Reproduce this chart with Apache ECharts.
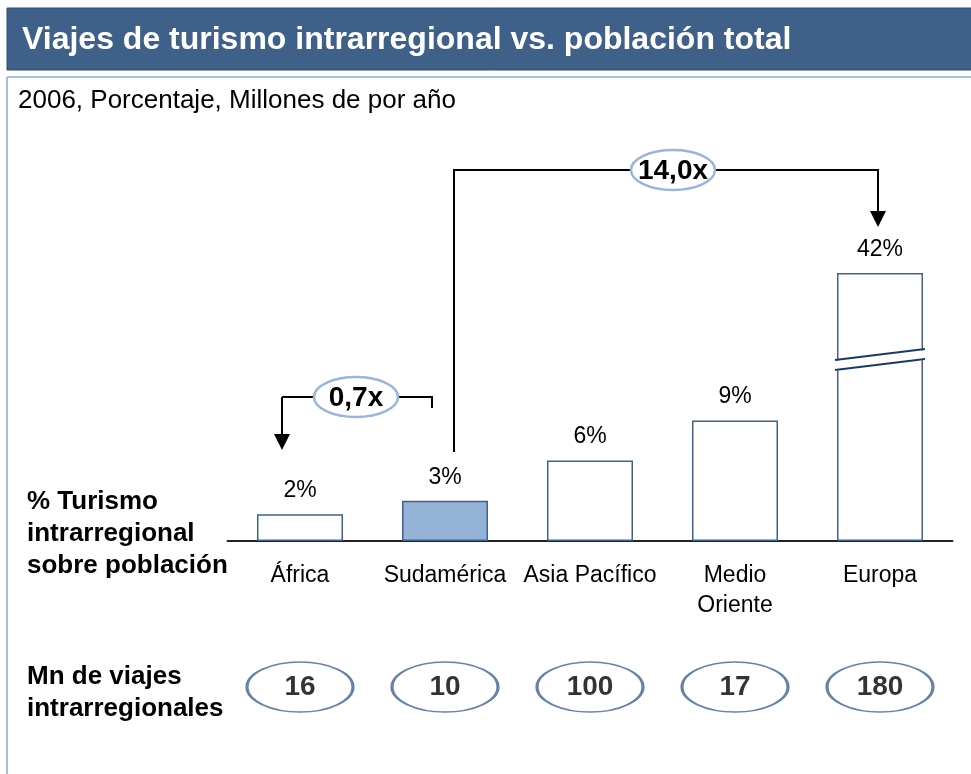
<!DOCTYPE html>
<html>
<head>
<meta charset="utf-8">
<script src="https://cdn.jsdelivr.net/npm/echarts@6/dist/echarts.min.js"></script>
<style>
  html, body { margin: 0; padding: 0; background: #fff; }
  #main { width: 971px; height: 774px; }
</style>
</head>
<body>
<div id="main"></div>
<script>
// data
const regions = ['África', 'Sudamérica', 'Asia Pacífico', 'Medio\nOriente', 'Europa'];
const sharePct = [2, 3, 6, 9, 42];          // % turismo intrarregional sobre población
const tripsMn = [16, 10, 100, 17, 180];     // Mn de viajes intrarregionales
const highlightIdx = 1;                     // Sudamérica
const axisCap = 20;                         // bars above this get drawn broken
const ratioLabels = ['0,7x', '14,0x'];

const FONT = '"Liberation Sans", Arial, sans-serif';
const DARK = '#41618C';

let chart = echarts.init(document.getElementById('main'));

chart.setOption({
  animation: false,
  backgroundColor: '#fff',
  grid: [
    { left: 227.5, width: 725, top: 273, height: 268 },
    { left: 227.5, width: 725, top: 662, height: 50 }
  ],
  xAxis: [
    {
      gridIndex: 0,
      type: 'category',
      data: regions,
      axisLine: { lineStyle: { color: '#222', width: 2 } },
      axisTick: { show: false },
      axisLabel: {
        color: '#000', fontSize: 23, fontFamily: FONT,
        margin: 20, lineHeight: 30, interval: 0
      }
    },
    {
      gridIndex: 1,
      type: 'category',
      data: regions,
      show: false
    }
  ],
  yAxis: [
    { gridIndex: 0, type: 'value', min: 0, max: axisCap, show: false },
    { gridIndex: 1, type: 'value', min: -1, max: 1, show: false }
  ],
  series: [
    {
      type: 'bar',
      xAxisIndex: 0,
      yAxisIndex: 0,
      barWidth: 86,
      data: sharePct.map(function (v, i) {
        return {
          value: Math.min(v, axisCap),
          itemStyle: {
            color: i === highlightIdx ? '#95B3D7' : '#fff',
            borderColor: DARK,
            borderWidth: 1.5
          }
        };
      }),
      label: {
        show: true,
        position: 'top',
        distance: 12,
        color: '#000',
        fontSize: 23,
        fontFamily: FONT,
        formatter: function (p) { return sharePct[p.dataIndex] + '%'; }
      }
    },
    {
      type: 'scatter',
      xAxisIndex: 1,
      yAxisIndex: 1,
      symbol: 'path://M0 50A50 50 0 1 1 100 50A50 50 0 1 1 0 50Z',
      symbolSize: [106, 50],
      itemStyle: { color: '#fff', borderColor: DARK, borderWidth: 2.2 },
      data: tripsMn.map(function (v, i) { return [i, 0]; }),
      label: {
        show: true,
        position: 'inside',
        color: '#000',
        fontSize: 28,
        fontWeight: 'bold',
        fontFamily: FONT,
        formatter: function (p) { return tripsMn[p.dataIndex]; }
      },
      z: 3
    }
  ]
});

// annotation shapes, placed from the bar positions
function px(i, v) {
  return chart.convertToPixel({ gridIndex: 0 }, [i, v]);
}
let xAf = px(0, 0)[0], xSa = px(1, 0)[0], xEu = px(4, 0)[0];
let euTop = px(4, axisCap)[1];

function line(pts, color, w) {
  return { type: 'polyline', shape: { points: pts }, style: { stroke: color || '#000', lineWidth: w || 2, fill: null }, z: 10 };
}
function arrowHead(x, yTip) {
  return { type: 'polygon', shape: { points: [[x - 8, yTip - 16], [x + 8, yTip - 16], [x, yTip]] }, style: { fill: '#000' }, z: 10 };
}
function ratioBubble(cx, cy, txt) {
  return [
    { type: 'ellipse', shape: { cx: cx, cy: cy, rx: 42, ry: 20 }, style: { fill: '#fff', stroke: '#9BB5D5', lineWidth: 2.5 }, z: 11 },
    { type: 'text', x: cx, y: cy + 1, style: { text: txt, font: 'bold 28px ' + FONT, fill: '#000', align: 'center', verticalAlign: 'middle' }, z: 12 }
  ];
}

let yA = 397, yB = 170;
let euL = xEu - 45, euR = xEu + 45;
let brkY = euTop + 87;

let graphics = [
  // header bar
  { type: 'rect', shape: { x: 7, y: 8, width: 970, height: 62 }, style: { fill: '#3F6189', stroke: '#2E4B70', lineWidth: 1 }, z: 1 },
  { type: 'text', x: 22, y: 40, style: { text: 'Viajes de turismo intrarregional vs. población total', font: 'bold 32px ' + FONT, fill: '#fff', verticalAlign: 'middle' }, z: 2 },
  // panel frame
  line([[7, 77], [975, 77]], '#A7BEDC', 2),
  line([[7, 77], [7, 780]], '#A7BEDC', 2),
  { type: 'text', x: 18, y: 101, style: { text: '2006, Porcentaje, Millones de por año', font: '26px ' + FONT, fill: '#000', verticalAlign: 'middle' } },
  // row headers
  { type: 'text', x: 27, y: 486, style: { text: '% Turismo\nintrarregional\nsobre población', font: 'bold 26px ' + FONT, lineHeight: 32, fill: '#000', verticalAlign: 'top' } },
  { type: 'text', x: 27, y: 661, style: { text: 'Mn de viajes\nintrarregionales', font: 'bold 26px ' + FONT, lineHeight: 32, fill: '#000', verticalAlign: 'top' } },
  // 0,7x bracket: Sudamérica -> África
  line([[xAf - 18, yA], [xSa - 13, yA], [xSa - 13, yA + 11]]),
  line([[xAf - 18, yA], [xAf - 18, 438]]),
  arrowHead(xAf - 18, 450),
  // 14,0x bracket: Sudamérica -> Europa
  line([[xSa + 9, 452], [xSa + 9, yB], [xEu - 2, yB], [xEu - 2, 214]]),
  arrowHead(xEu - 2, 227),
  // broken Europa bar
  { type: 'polygon', shape: { points: [[euL, brkY + 1], [euR, brkY - 10], [euR, brkY], [euL, brkY + 11]] }, style: { fill: '#fff' }, z: 10 },
  line([[euL, brkY], [euR, brkY - 11]], '#1F3A5F', 2),
  line([[euL, brkY + 10], [euR, brkY - 1]], '#1F3A5F', 2)
];
graphics = graphics.concat(ratioBubble(356, yA, ratioLabels[0]), ratioBubble(673, yB, ratioLabels[1]));

chart.setOption({ graphic: graphics });
</script>
</body>
</html>
